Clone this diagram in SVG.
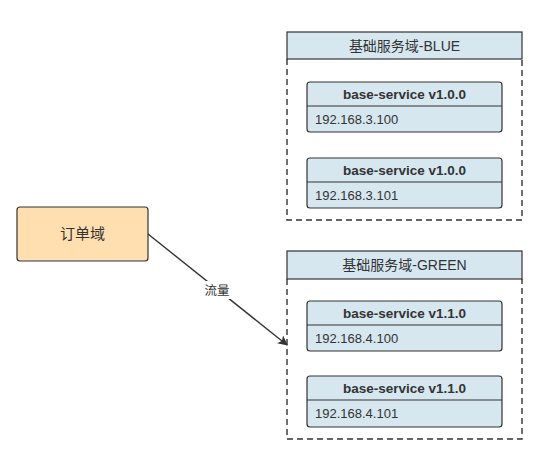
<svg xmlns="http://www.w3.org/2000/svg" width="551" height="463" viewBox="0 0 551 463">
<style>
.t{font-family:"Liberation Sans","Noto Sans CJK SC",sans-serif;fill:#333}
.hdr{fill:#D6E7EF;stroke:#333;stroke-width:1.2}
.dash{fill:none;stroke:#333;stroke-width:1.4;stroke-dasharray:6 4}
.svc{fill:#D6E7EF;stroke:#333;stroke-width:1.2}
.h{font-size:14px;text-anchor:middle}
.b{font-size:13.5px;font-weight:bold;text-anchor:middle}
.ip{font-size:13px}
</style>
<defs>
<marker id="arr" markerWidth="10" markerHeight="10" refX="9" refY="5" orient="auto" markerUnits="userSpaceOnUse"><path d="M0,0 L10,5 L0,10 L2.5,5 Z" fill="#333"/></marker>
</defs>
<rect width="551" height="463" fill="#fff"/>
<g id="blue">
<path class="dash" d="M287,59 V220 H522 V59"/>
<rect class="hdr" x="287" y="32" width="235" height="27"/>
<text class="t h" x="404.5" y="50.5">基础服务域-BLUE</text>
</g>
<g id="blue-svc1">
<rect class="svc" x="307" y="82" width="195" height="50" rx="3"/>
<line x1="307" y1="106" x2="502" y2="106" stroke="#333" stroke-width="1.2"/>
<text class="t b" x="404.5" y="99">base-service v1.0.0</text>
<text class="t ip" x="315" y="124">192.168.3.100</text>
</g>
<g id="blue-svc2">
<rect class="svc" x="307" y="158" width="195" height="50" rx="3"/>
<line x1="307" y1="182" x2="502" y2="182" stroke="#333" stroke-width="1.2"/>
<text class="t b" x="404.5" y="175">base-service v1.0.0</text>
<text class="t ip" x="315" y="200">192.168.3.101</text>
</g>
<g id="green">
<path class="dash" d="M287,279 V439 H522 V279"/>
<rect class="hdr" x="287" y="251" width="235" height="28"/>
<text class="t h" x="404.5" y="270">基础服务域-GREEN</text>
</g>
<g id="green-svc1">
<rect class="svc" x="307" y="301" width="195" height="50" rx="3"/>
<line x1="307" y1="325" x2="502" y2="325" stroke="#333" stroke-width="1.2"/>
<text class="t b" x="404.5" y="318">base-service v1.1.0</text>
<text class="t ip" x="315" y="343">192.168.4.100</text>
</g>
<g id="green-svc2">
<rect class="svc" x="307" y="376" width="195" height="51" rx="3"/>
<line x1="307" y1="400" x2="502" y2="400" stroke="#333" stroke-width="1.2"/>
<text class="t b" x="404.5" y="393">base-service v1.1.0</text>
<text class="t ip" x="315" y="418">192.168.4.101</text>
</g>
<g id="order">
<rect x="17" y="207" width="131" height="54" rx="3" fill="#FFDFB0" stroke="#333" stroke-width="1.2"/>
<text class="t h" x="82.5" y="239" style="font-size:15px">订单域</text>
</g>
<g id="connectors">
<line x1="148" y1="234" x2="287" y2="345" stroke="#333" stroke-width="1.4" marker-end="url(#arr)"/>
<rect x="203" y="281" width="28" height="18" fill="#fff"/>
<text class="t" x="217" y="295" text-anchor="middle" font-size="12.5">流量</text>
</g>
</svg>
